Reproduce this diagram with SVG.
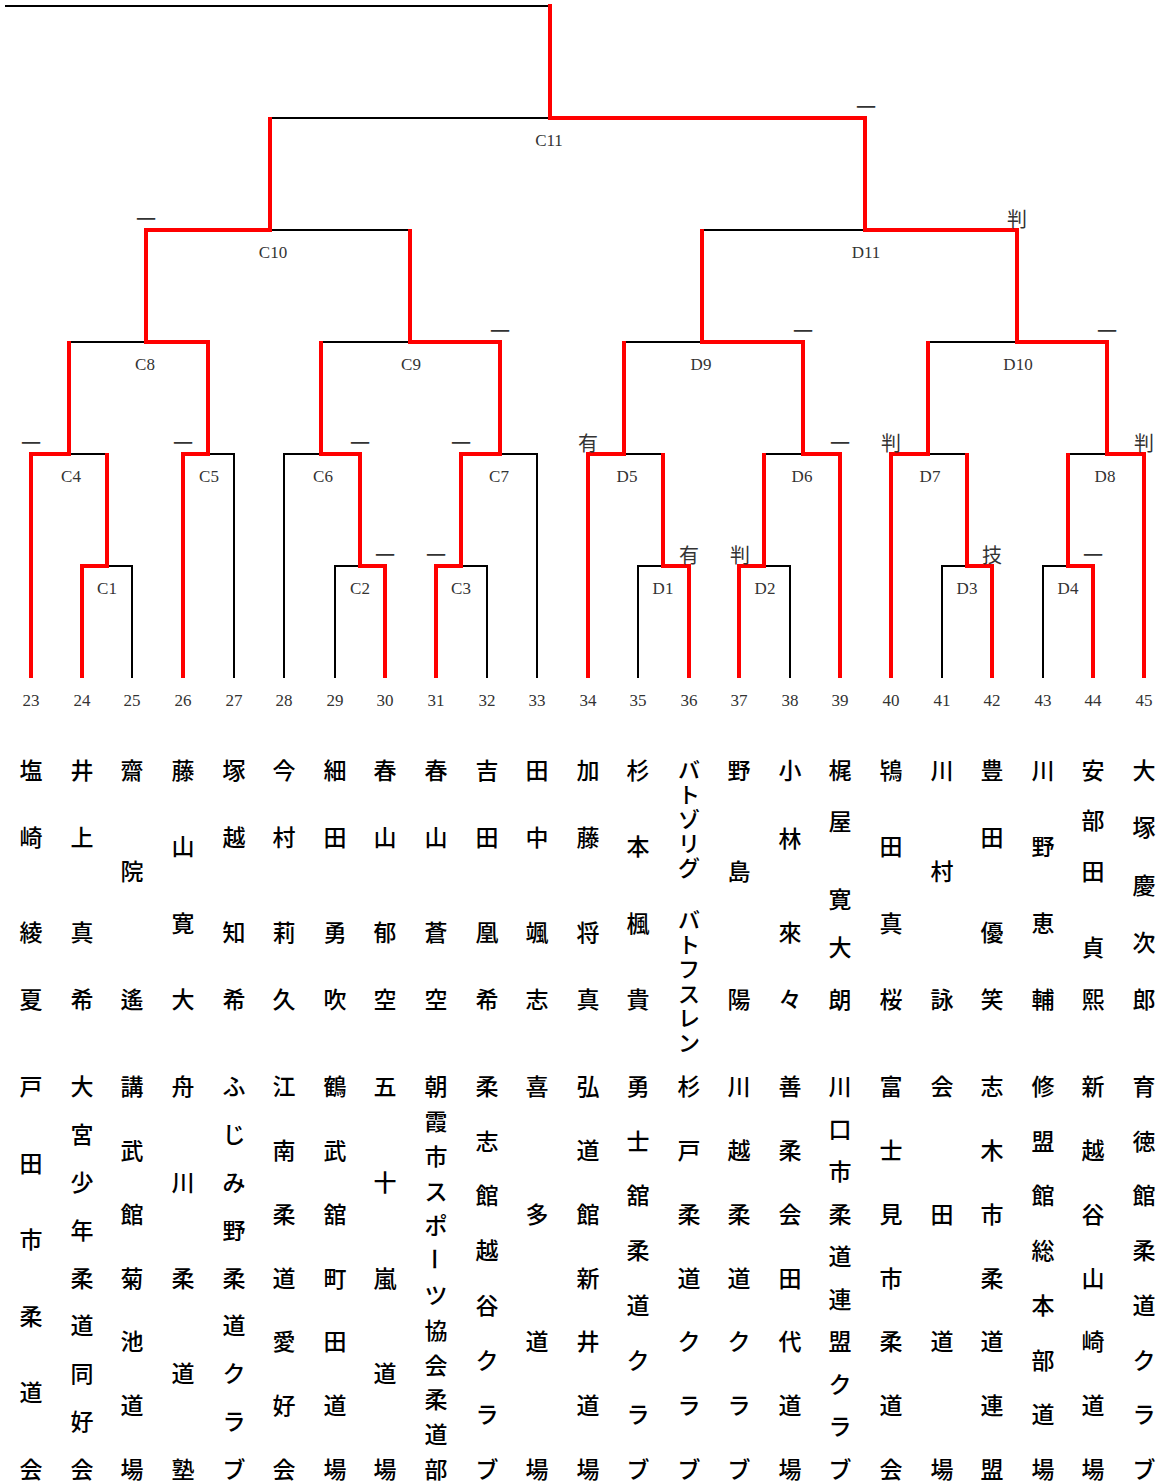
<svg xmlns="http://www.w3.org/2000/svg" width="1158" height="1484" viewBox="0 0 1158 1484">
<style>
.blk{fill:none;stroke:#000;stroke-width:2;stroke-linejoin:miter}
.red{fill:none;stroke:#ff0000;stroke-width:4;stroke-linejoin:miter;stroke-linecap:butt}
.num{font-family:"Liberation Serif",serif;font-size:17px;fill:#333;text-anchor:middle;dominant-baseline:central}
.lbl{font-family:"Liberation Serif",serif;font-size:17px;fill:#333;text-anchor:middle;dominant-baseline:central}
.mark{font-family:"Noto Sans CJK JP",sans-serif;font-size:20px;fill:#333;text-anchor:middle;dominant-baseline:central}
.jp{font-family:"Noto Sans CJK JP",sans-serif;font-size:23px;font-weight:500;fill:#000;text-anchor:middle;dominant-baseline:central}
.kt{font-family:"Noto Sans CJK JP",sans-serif;font-size:22px;font-weight:500;fill:#000;text-anchor:middle;dominant-baseline:central}
</style>
<rect width="1158" height="1484" fill="#fff"/>
<g id="connectors">
<path class="blk" d="M5,6 H550 V118"/>
<path class="blk" d="M270,230 V118 H865 V230"/>
<path class="blk" d="M146,342 V230 H410 V342"/>
<path class="blk" d="M702,342 V230 H1017 V342"/>
<path class="blk" d="M69,454 V342 H208 V454"/>
<path class="blk" d="M321,454 V342 H500 V454"/>
<path class="blk" d="M624,454 V342 H803 V454"/>
<path class="blk" d="M928,454 V342 H1107 V454"/>
<path class="blk" d="M31,678 V454 H107 V566"/>
<path class="blk" d="M183,678 V454 H234 V678"/>
<path class="blk" d="M284,678 V454 H360 V566"/>
<path class="blk" d="M461,566 V454 H537 V678"/>
<path class="blk" d="M588,678 V454 H663 V566"/>
<path class="blk" d="M764,566 V454 H840 V678"/>
<path class="blk" d="M891,678 V454 H967 V566"/>
<path class="blk" d="M1068,566 V454 H1144 V678"/>
<path class="blk" d="M82,678 V566 H132 V678"/>
<path class="blk" d="M335,678 V566 H385 V678"/>
<path class="blk" d="M436,678 V566 H487 V678"/>
<path class="blk" d="M638,678 V566 H689 V678"/>
<path class="blk" d="M739,678 V566 H790 V678"/>
<path class="blk" d="M942,678 V566 H992 V678"/>
<path class="blk" d="M1043,678 V566 H1093 V678"/>
<path class="red" d="M31,678 V454 H69 V341"/>
<path class="red" d="M82,678 V566 H107 V453"/>
<path class="red" d="M183,678 V454 H208 V342 H146 V230 H270 V117"/>
<path class="red" d="M385,678 V566 H360 V454 H321 V341"/>
<path class="red" d="M436,678 V566 H461 V454 H500 V342 H410 V229"/>
<path class="red" d="M588,678 V454 H624 V341"/>
<path class="red" d="M689,678 V566 H663 V453"/>
<path class="red" d="M739,678 V566 H764 V453"/>
<path class="red" d="M840,678 V454 H803 V342 H702 V229"/>
<path class="red" d="M891,678 V454 H928 V341"/>
<path class="red" d="M992,678 V566 H967 V453"/>
<path class="red" d="M1093,678 V566 H1068 V453"/>
<path class="red" d="M1144,678 V454 H1107 V342 H1017 V230 H865 V118 H550 V4"/>
</g>
<g id="C11"><text class="lbl" x="549" y="140">C11</text><text class="mark" x="866" y="106">一</text></g>
<g id="C10"><text class="lbl" x="273" y="252">C10</text><text class="mark" x="146" y="218">一</text></g>
<g id="D11"><text class="lbl" x="866" y="252">D11</text><text class="mark" x="1017" y="218">判</text></g>
<g id="C8"><text class="lbl" x="145" y="364">C8</text></g>
<g id="C9"><text class="lbl" x="411" y="364">C9</text><text class="mark" x="500" y="330">一</text></g>
<g id="D9"><text class="lbl" x="701" y="364">D9</text><text class="mark" x="803" y="330">一</text></g>
<g id="D10"><text class="lbl" x="1018" y="364">D10</text><text class="mark" x="1107" y="330">一</text></g>
<g id="C4"><text class="lbl" x="71" y="476">C4</text><text class="mark" x="31" y="442">一</text></g>
<g id="C5"><text class="lbl" x="209" y="476">C5</text><text class="mark" x="183" y="442">一</text></g>
<g id="C6"><text class="lbl" x="323" y="476">C6</text><text class="mark" x="360" y="442">一</text></g>
<g id="C7"><text class="lbl" x="499" y="476">C7</text><text class="mark" x="461" y="442">一</text></g>
<g id="D5"><text class="lbl" x="627" y="476">D5</text><text class="mark" x="588" y="442">有</text></g>
<g id="D6"><text class="lbl" x="802" y="476">D6</text><text class="mark" x="840" y="442">一</text></g>
<g id="D7"><text class="lbl" x="930" y="476">D7</text><text class="mark" x="891" y="442">判</text></g>
<g id="D8"><text class="lbl" x="1105" y="476">D8</text><text class="mark" x="1144" y="442">判</text></g>
<g id="C1"><text class="lbl" x="107" y="588">C1</text></g>
<g id="C2"><text class="lbl" x="360" y="588">C2</text><text class="mark" x="385" y="554">一</text></g>
<g id="C3"><text class="lbl" x="461" y="588">C3</text><text class="mark" x="436" y="554">一</text></g>
<g id="D1"><text class="lbl" x="663" y="588">D1</text><text class="mark" x="689" y="554">有</text></g>
<g id="D2"><text class="lbl" x="765" y="588">D2</text><text class="mark" x="740" y="554">判</text></g>
<g id="D3"><text class="lbl" x="967" y="588">D3</text><text class="mark" x="992" y="554">技</text></g>
<g id="D4"><text class="lbl" x="1068" y="588">D4</text><text class="mark" x="1093" y="554">一</text></g>

<g id="players" transform="translate(0,-2)">
<g id="p23"><text class="num" x="31" y="702">23</text><text class="jp" x="31 31 31 31" y="771 838 933 1000">塩崎綾夏</text><text class="jp" x="31 31 31 31 31 31" y="1087 1164 1240 1317 1393 1470">戸田市柔道会</text></g>
<g id="p24"><text class="num" x="82" y="702">24</text><text class="jp" x="82 82 82 82" y="771 838 933 1000">井上真希</text><text class="jp" x="82 82 82 82 82 82 82 82 82" y="1087 1135 1183 1231 1279 1326 1374 1422 1470">大宮少年柔道同好会</text></g>
<g id="p25"><text class="num" x="132" y="702">25</text><text class="jp" x="132 132 132" y="771 872 1000">齋院遙</text><text class="jp" x="132 132 132 132 132 132 132" y="1087 1151 1215 1279 1342 1406 1470">講武館菊池道場</text></g>
<g id="p26"><text class="num" x="183" y="702">26</text><text class="jp" x="183 183 183 183" y="771 847 924 1000">藤山寛大</text><text class="jp" x="183 183 183 183 183" y="1087 1183 1279 1374 1470">舟川柔道塾</text></g>
<g id="p27"><text class="num" x="234" y="702">27</text><text class="jp" x="234 234 234 234" y="771 838 933 1000">塚越知希</text><text class="jp" x="234 234 234 234 234 234 234 234 234" y="1087 1135 1183 1231 1279 1326 1374 1422 1470">ふじみ野柔道クラブ</text></g>
<g id="p28"><text class="num" x="284" y="702">28</text><text class="jp" x="284 284 284 284" y="771 838 933 1000">今村莉久</text><text class="jp" x="284 284 284 284 284 284 284" y="1087 1151 1215 1279 1342 1406 1470">江南柔道愛好会</text></g>
<g id="p29"><text class="num" x="335" y="702">29</text><text class="jp" x="335 335 335 335" y="771 838 933 1000">細田勇吹</text><text class="jp" x="335 335 335 335 335 335 335" y="1087 1151 1215 1279 1342 1406 1470">鶴武舘町田道場</text></g>
<g id="p30"><text class="num" x="385" y="702">30</text><text class="jp" x="385 385 385 385" y="771 838 933 1000">春山郁空</text><text class="jp" x="385 385 385 385 385" y="1087 1183 1279 1374 1470">五十嵐道場</text></g>
<g id="p31"><text class="num" x="436" y="702">31</text><text class="jp" x="436 436 436 436" y="771 838 933 1000">春山蒼空</text><text class="jp" x="436 436 436 436 436" y="1087 1122 1157 1192 1226">朝霞市スポ</text><text class="jp" x="436" y="1261" transform="rotate(90 436 1261)">ー</text><text class="jp" x="436 436 436 436 436 436" y="1296 1331 1366 1400 1435 1470">ツ協会柔道部</text></g>
<g id="p32"><text class="num" x="487" y="702">32</text><text class="jp" x="487 487 487 487" y="771 838 933 1000">吉田凰希</text><text class="jp" x="487 487 487 487 487 487 487 487" y="1087 1142 1196 1251 1306 1361 1415 1470">柔志館越谷クラブ</text></g>
<g id="p33"><text class="num" x="537" y="702">33</text><text class="jp" x="537 537 537 537" y="771 838 933 1000">田中颯志</text><text class="jp" x="537 537 537 537" y="1087 1215 1342 1470">喜多道場</text></g>
<g id="p34"><text class="num" x="588" y="702">34</text><text class="jp" x="588 588 588 588" y="771 838 933 1000">加藤将真</text><text class="jp" x="588 588 588 588 588 588 588" y="1087 1151 1215 1279 1342 1406 1470">弘道館新井道場</text></g>
<g id="p35"><text class="num" x="638" y="702">35</text><text class="jp" x="638 638 638 638" y="771 847 924 1000">杉本楓貴</text><text class="jp" x="638 638 638 638 638 638 638 638" y="1087 1142 1196 1251 1306 1361 1415 1470">勇士舘柔道クラブ</text></g>
<g id="p36"><text class="num" x="689" y="702">36</text><text class="kt" x="689 689 689 689 689" y="770 794.5 819 843.5 868">バトゾリグ</text><text class="kt" x="689 689 689 689 689 689" y="920 944.5 969 993.5 1018 1042.5">バトフスレン</text><text class="jp" x="689 689 689 689 689 689 689" y="1087 1151 1215 1279 1342 1406 1470">杉戸柔道クラブ</text></g>
<g id="p37"><text class="num" x="739" y="702">37</text><text class="jp" x="739 739 739" y="771 872 1000">野島陽</text><text class="jp" x="739 739 739 739 739 739 739" y="1087 1151 1215 1279 1342 1406 1470">川越柔道クラブ</text></g>
<g id="p38"><text class="num" x="790" y="702">38</text><text class="jp" x="790 790 790 790" y="771 839 933 1000">小林來々</text><text class="jp" x="790 790 790 790 790 790 790" y="1087 1151 1215 1279 1342 1406 1470">善柔会田代道場</text></g>
<g id="p39"><text class="num" x="840" y="702">39</text><text class="jp" x="840 840 840 840 840" y="771 822 900 948 1000">梶屋寛大朗</text><text class="jp" x="840 840 840 840 840 840 840 840 840 840" y="1087 1130 1172 1215 1257 1300 1342 1385 1427 1470">川口市柔道連盟クラブ</text></g>
<g id="p40"><text class="num" x="891" y="702">40</text><text class="jp" x="891 891 891 891" y="771 847 924 1000">鴇田真桜</text><text class="jp" x="891 891 891 891 891 891 891" y="1087 1151 1215 1279 1342 1406 1470">富士見市柔道会</text></g>
<g id="p41"><text class="num" x="942" y="702">41</text><text class="jp" x="942 942 942" y="771 872 1000">川村詠</text><text class="jp" x="942 942 942 942" y="1087 1215 1342 1470">会田道場</text></g>
<g id="p42"><text class="num" x="992" y="702">42</text><text class="jp" x="992 992 992 992" y="771 838 933 1000">豊田優笑</text><text class="jp" x="992 992 992 992 992 992 992" y="1087 1151 1215 1279 1342 1406 1470">志木市柔道連盟</text></g>
<g id="p43"><text class="num" x="1043" y="702">43</text><text class="jp" x="1043 1043 1043 1043" y="771 847 924 1000">川野恵輔</text><text class="jp" x="1043 1043 1043 1043 1043 1043 1043 1043" y="1087 1142 1196 1251 1306 1361 1415 1470">修盟館総本部道場</text></g>
<g id="p44"><text class="num" x="1093" y="702">44</text><text class="jp" x="1093 1093 1093 1093 1093" y="771 821 872 948 1000">安部田貞熙</text><text class="jp" x="1093 1093 1093 1093 1093 1093 1093" y="1087 1151 1215 1279 1342 1406 1470">新越谷山崎道場</text></g>
<g id="p45"><text class="num" x="1144" y="702">45</text><text class="jp" x="1144 1144 1144 1144 1144" y="771 828 886 943 1000">大塚慶次郎</text><text class="jp" x="1144 1144 1144 1144 1144 1144 1144 1144" y="1087 1142 1196 1251 1306 1361 1415 1470">育徳館柔道クラブ</text></g>
</g>
</svg>
